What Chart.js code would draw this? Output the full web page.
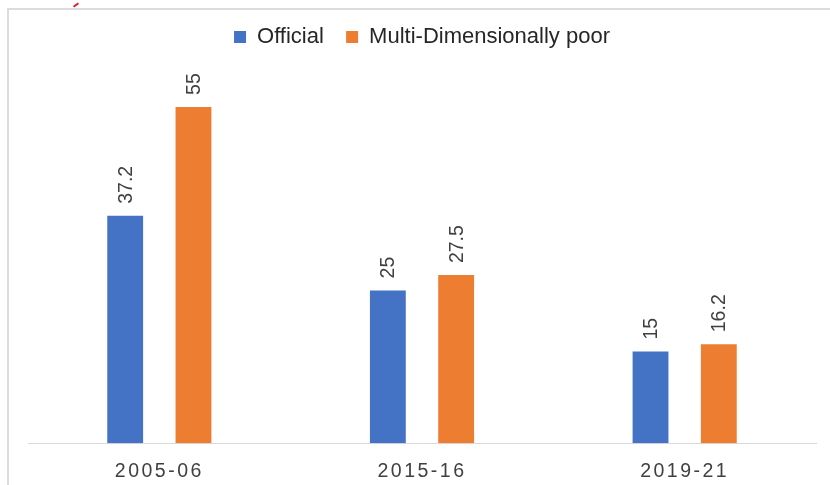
<!DOCTYPE html>
<html>
<head>
<meta charset="utf-8">
<script src="https://cdn.jsdelivr.net/npm/chart.js@4/dist/chart.umd.min.js"></script>
<style>
  html, body { margin: 0; padding: 0; background: #ffffff; }
  body { width: 830px; height: 485px; position: relative; overflow: hidden; }
  #frame { position: absolute; left: 7px; top: 8px; width: 821px; height: 477px;
           border-left: 2px solid #dcdcdc; border-top: 2px solid #dcdcdc; }
  #c { position: absolute; left: 0; top: 0; }
  #mark { position: absolute; left: 73px; top: 4px; width: 6px; height: 2px; background: #e8151b; transform: rotate(-35deg); }
</style>
</head>
<body>
<div id="mark"></div>
<div id="frame"><canvas id="c" width="821" height="475"></canvas></div>
<script>
const categories = ['2005-06', '2015-16', '2019-21'];
const officialValues = [37.2, 25, 15];
const multiDimValues = [55, 27.5, 16.2];
const seriesNames = ['Official', 'Multi-Dimensionally poor'];

const FONT = "'Liberation Sans', Arial, Helvetica, sans-serif";

const valueLabels = {
  id: 'valueLabels',
  afterDatasetsDraw(chart) {
    const ctx = chart.ctx;
    chart.data.datasets.forEach((ds, di) => {
      const meta = chart.getDatasetMeta(di);
      meta.data.forEach((el, i) => {
        ctx.save();
        ctx.translate(el.x + 1, el.y - 12);
        ctx.rotate(-Math.PI / 2);
        ctx.font = "19.5px " + FONT;
        ctx.fillStyle = '#404040';
        ctx.textAlign = 'left';
        ctx.textBaseline = 'middle';
        ctx.fillText(String(ds.data[i]), 0, 0);
        ctx.restore();
      });
    });
  }
};

const spacedTicks = {
  id: 'spacedTicks',
  beforeDraw(chart) {
    const s = chart.scales.x;
    if (s && !s._spaced) {
      const orig = s.drawLabels.bind(s);
      s.drawLabels = function (area) {
        chart.ctx.save();
        chart.ctx.letterSpacing = '2.5px';
        orig(area);
        chart.ctx.restore();
      };
      s._spaced = true;
    }
  }
};

new Chart(document.getElementById('c'), {
  type: 'bar',
  data: {
    labels: categories,
    datasets: [
      { label: seriesNames[0], data: officialValues, backgroundColor: '#4472C4', borderWidth: 0,
        barPercentage: 0.525, categoryPercentage: 0.52 },
      { label: seriesNames[1], data: multiDimValues, backgroundColor: '#ED7D31', borderWidth: 0,
        barPercentage: 0.525, categoryPercentage: 0.52 }
    ]
  },
  options: {
    responsive: false,
    animation: false,
    devicePixelRatio: 1,
    layout: { padding: { left: 19, right: 14, top: 6, bottom: 0 } },
    plugins: {
      legend: {
        display: true,
        position: 'top',
        labels: {
          boxWidth: 12,
          boxHeight: 12,
          padding: 10,
          color: '#262626',
          font: { family: FONT, size: 22 },
          generateLabels(chart) {
            const items = Chart.defaults.plugins.legend.labels.generateLabels(chart);
            items[0].text = items[0].text + '  ';
            return items;
          }
        }
      },
      tooltip: { enabled: false }
    },
    scales: {
      x: {
        grid: { display: false, drawTicks: false },
        border: { display: true, color: '#d9d9d9', width: 1 },
        ticks: { color: '#404040', padding: 17, font: { family: FONT, size: 19.5 } },
        afterFit(scale) { scale.height = 41.7; }
      },
      y: {
        display: false,
        min: 0,
        max: 63,
        grid: { display: false }
      }
    }
  },
  plugins: [valueLabels, spacedTicks]
});
</script>
</body>
</html>
